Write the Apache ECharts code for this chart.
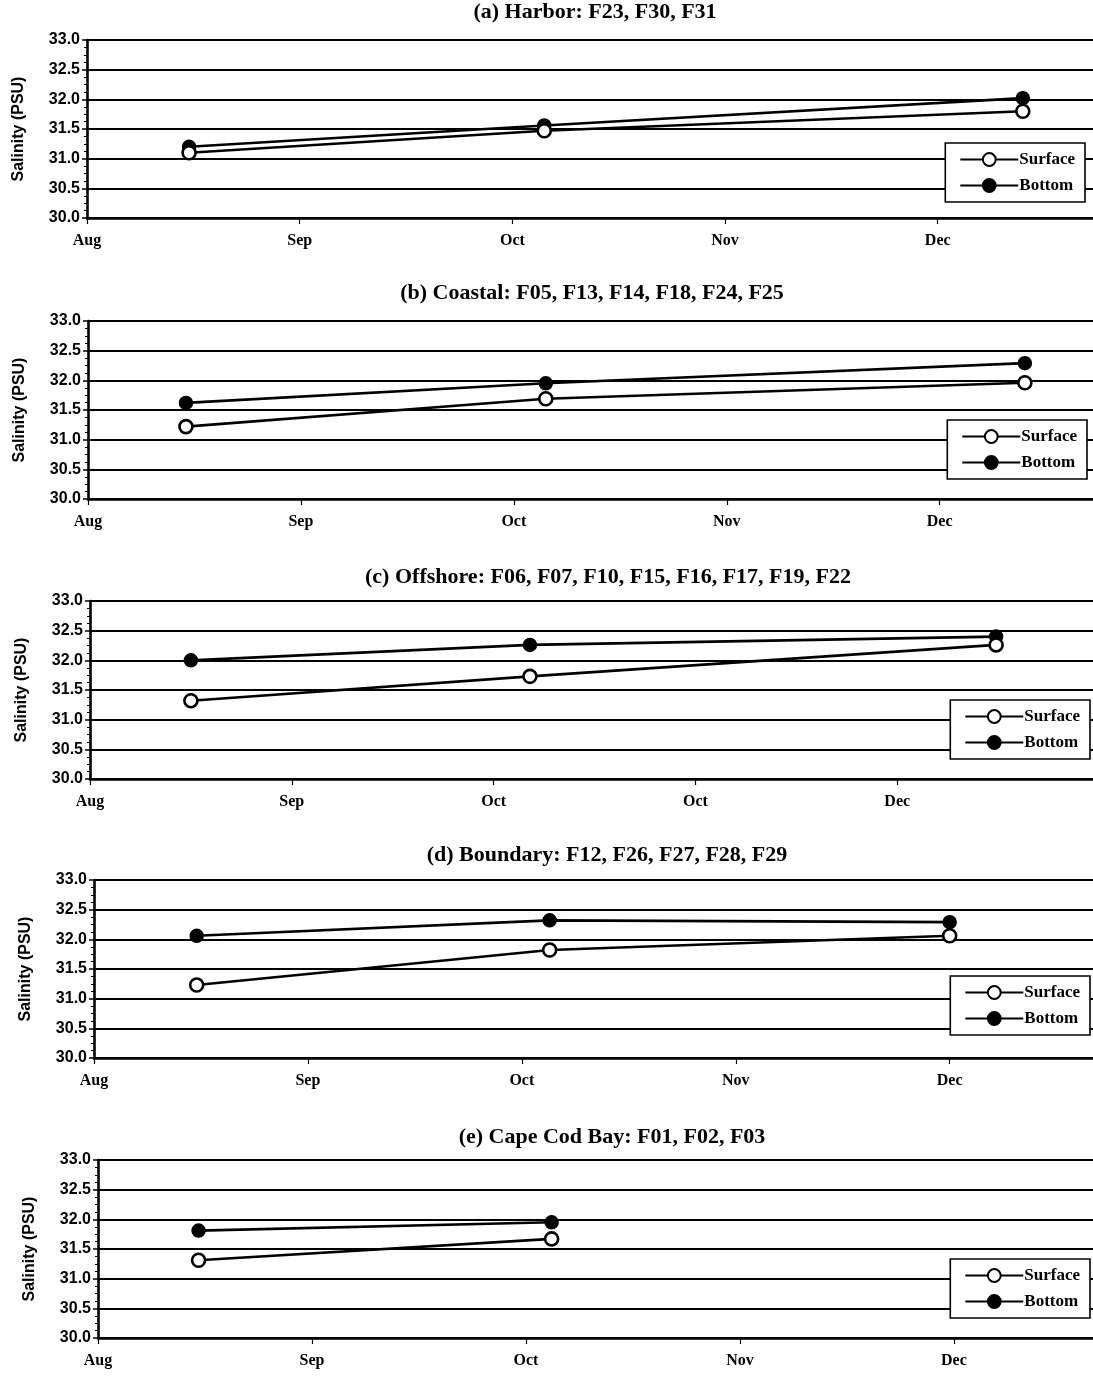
<!DOCTYPE html>
<html>
<head>
<meta charset="utf-8">
<script src="https://cdn.jsdelivr.net/npm/echarts@6/dist/echarts.min.js"></script>
<style>
html,body{margin:0;padding:0;background:#fff;}
#chart{width:1093px;height:1376px;}
</style>
</head>
<body>
<div id="chart"></div>
<script>
// ---- data ----
const months = ['Aug', 'Sep', 'Oct', 'Nov', 'Dec'];
const monthsOffshore = ['Aug', 'Sep', 'Oct', 'Oct', 'Dec'];
const yTicks = [30.0, 30.5, 31.0, 31.5, 32.0, 32.5, 33.0];
const panelTitles = [
  '(a) Harbor: F23, F30, F31',
  '(b) Coastal: F05, F13, F14, F18, F24, F25',
  '(c) Offshore: F06, F07, F10, F15, F16, F17, F19, F22',
  '(d) Boundary: F12, F26, F27, F28, F29',
  '(e) Cape Cod Bay: F01, F02, F03'
];
const seriesNames = ['Surface', 'Bottom'];

// sample times, in months from start of Aug
const harborX = [0.48, 2.15, 4.40];
const harborSurface = [31.10, 31.47, 31.80];
const harborBottom = [31.20, 31.56, 32.02];

const coastalX = [0.46, 2.15, 4.40];
const coastalSurface = [31.22, 31.69, 31.96];
const coastalBottom = [31.62, 31.95, 32.29];

const offshoreX = [0.50, 2.18, 4.49];
const offshoreSurface = [31.32, 31.73, 32.26];
const offshoreBottom = [32.00, 32.26, 32.40];

const boundaryX = [0.48, 2.13, 4.00];
const boundarySurface = [31.23, 31.82, 32.06];
const boundaryBottom = [32.06, 32.32, 32.29];

const capeX = [0.47, 2.12];
const capeSurface = [31.31, 31.67];
const capeBottom = [31.81, 31.95];

// ---- layout ----
const panels = [
  {x: harborX, s: harborSurface, b: harborBottom, labels: months, top: 40, left: 87, xmax: 4.73, titleX: 595, titleY: 13, legRight: 8, legTop: 143},
  {x: coastalX, s: coastalSurface, b: coastalBottom, labels: months, top: 321, left: 88, xmax: 4.72, titleX: 592, titleY: 294, legRight: 6, legTop: 420},
  {x: offshoreX, s: offshoreSurface, b: offshoreBottom, labels: monthsOffshore, top: 601, left: 90, xmax: 4.97, titleX: 608, titleY: 578, legRight: 3, legTop: 700},
  {x: boundaryX, s: boundarySurface, b: boundaryBottom, labels: months, top: 880, left: 94, xmax: 4.67, titleX: 607, titleY: 856, legRight: 3, legTop: 976},
  {x: capeX, s: capeSurface, b: capeBottom, labels: months, top: 1160, left: 98, xmax: 4.65, titleX: 612, titleY: 1138, legRight: 3, legTop: 1259}
];
const PLOT_H = 178;
const serif = 'Liberation Serif';
const sans = 'Liberation Sans';

const option = {
  backgroundColor: '#fff',
  animation: false,
  title: [], grid: [], xAxis: [], yAxis: [], series: [], legend: []
};

panels.forEach((p, i) => {
  option.title.push({
    text: panelTitles[i], left: p.titleX, top: p.titleY - 12, textAlign: 'center', padding: 0,
    textStyle: {fontFamily: serif, fontWeight: 'bold', fontSize: 22, color: '#000'}
  });
  option.grid.push({left: p.left, top: p.top, height: PLOT_H, right: 0});
  option.xAxis.push({
    type: 'value', gridIndex: i, min: 0, max: p.xmax, interval: 1,
    axisLine: {show: true, lineStyle: {color: '#000', width: 2.6}},
    axisTick: {show: true, length: 6, lineStyle: {color: '#000', width: 1.2}},
    splitLine: {show: false},
    axisLabel: {
      margin: 15, color: '#000', fontFamily: serif, fontWeight: 'bold', fontSize: 16,
      showMaxLabel: false,
      formatter: (v) => (Math.abs(v - Math.round(v)) < 1e-6 && p.labels[Math.round(v)] !== undefined) ? p.labels[Math.round(v)] : ''
    }
  });
  option.yAxis.push({
    type: 'value', gridIndex: i, min: yTicks[0], max: yTicks[yTicks.length - 1], interval: 0.5,
    name: 'Salinity (PSU)', nameLocation: 'middle', nameGap: 60, nameRotate: 90,
    nameTextStyle: {fontFamily: sans, fontWeight: 'bold', fontSize: 16, color: '#000'},
    axisLine: {show: true, lineStyle: {color: '#000', width: 2.6}},
    axisTick: {show: true, length: 5, lineStyle: {color: '#000', width: 1.5}},
    minorTick: {show: true, splitNumber: 4, length: 3, lineStyle: {color: '#000', width: 1}},
    splitLine: {show: true, lineStyle: {color: '#000', width: 2}},
    axisLabel: {
      margin: 7, color: '#000', fontFamily: sans, fontWeight: 'bold', fontSize: 16,
      formatter: (v) => v.toFixed(1)
    }
  });
  option.series.push({
    name: seriesNames[1], type: 'line', xAxisIndex: i, yAxisIndex: i,
    data: p.x.map((x, k) => [x, p.b[k]]),
    symbol: 'circle', symbolSize: 13,
    lineStyle: {color: '#000', width: 2.6},
    itemStyle: {color: '#000', borderColor: '#000', borderWidth: 1.5}
  });
  option.series.push({
    name: seriesNames[0], type: 'line', xAxisIndex: i, yAxisIndex: i,
    data: p.x.map((x, k) => [x, p.s[k]]),
    symbol: 'circle', symbolSize: 13,
    lineStyle: {color: '#000', width: 2.6},
    itemStyle: {color: '#fff', borderColor: '#000', borderWidth: 2.6}
  });
  option.legend.push({
    data: seriesNames, orient: 'vertical', right: p.legRight, top: p.legTop,
    itemWidth: 58, itemHeight: 16, itemGap: 9, padding: [8, 10, 8, 14],
    backgroundColor: '#fff', borderColor: '#000', borderWidth: 1.6, borderRadius: 0,
    selectedMode: false,
    textStyle: {fontFamily: serif, fontWeight: 'bold', fontSize: 17, color: '#000', padding: [0, 0, 0, -4]}
  });
});

const chart = echarts.init(document.getElementById('chart'), null, {renderer: 'canvas'});
chart.setOption(option);
</script>
</body>
</html>
